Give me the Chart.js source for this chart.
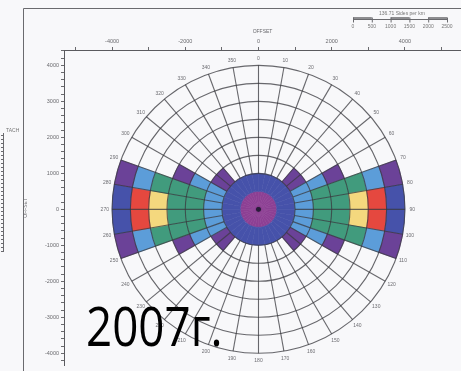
<!DOCTYPE html>
<html>
<head>
<meta charset="utf-8">
<script src="https://cdn.jsdelivr.net/npm/chart.js@4.4.1/dist/chart.umd.min.js"></script>
<style>
  html, body { margin: 0; padding: 0; background: #f8f8fa; }
  canvas { display: block; }
</style>
</head>
<body>
<canvas id="rose" width="461" height="371"></canvas>
<script>
// Azimuth sectors (degrees, clockwise from north), 10 degrees each
const sectorStart = [0, 10, 20, 30, 40, 50, 60, 70, 80, 90, 100, 110, 120, 130, 140, 150, 160, 170,
                     180, 190, 200, 210, 220, 230, 240, 250, 260, 270, 280, 290, 300, 310, 320, 330, 340, 350];
const sectorWidth = 10;
const azimuthLabels = ['0', '10', '20', '30', '40', '50', '60', '70', '80', '90', '100', '110', '120', '130',
                       '140', '150', '160', '170', '180', '190', '200', '210', '220', '230', '240', '250',
                       '260', '270', '280', '290', '300', '310', '320', '330', '340', '350'];

// Offset rings (m): edges of each ring
const ringEdges = [0, 80, 500, 1000, 1500, 2000, 2500, 3000, 3500, 4000];

// Fold class per sector, one array per ring (0 = empty)
const ring0to80     = [8,8,8,8,8,8,8,8,8,8,8,8,8,8,8,8,8,8,8,8,8,8,8,8,8,8,8,8,8,8,8,8,8,8,8,8];
const ring80to500   = [7,7,7,7,7,7,7,7,7,7,7,7,7,7,7,7,7,7,7,7,7,7,7,7,7,7,7,7,7,7,7,7,7,7,7,7];
const ring500to1000 = [2,2,2,2,2,2,2,2,2,2,2,2,2,2,2,2,2,2,2,2,2,2,2,2,2,2,2,2,2,2,2,2,2,2,2,2];
const ring1000to1500 = [0,0,0,0,1,1,3,3,3,3,3,3,1,1,0,0,0,0,0,0,0,0,1,1,3,3,3,3,3,3,1,1,0,0,0,0];
const ring1500to2000 = [0,0,0,0,0,0,3,4,4,4,4,3,0,0,0,0,0,0,0,0,0,0,0,0,3,4,4,4,4,3,0,0,0,0,0,0];
const ring2000to2500 = [0,0,0,0,0,0,1,4,4,4,4,1,0,0,0,0,0,0,0,0,0,0,0,0,1,4,4,4,4,1,0,0,0,0,0,0];
const ring2500to3000 = [0,0,0,0,0,0,0,4,5,5,4,0,0,0,0,0,0,0,0,0,0,0,0,0,0,4,5,5,4,0,0,0,0,0,0,0];
const ring3000to3500 = [0,0,0,0,0,0,0,3,6,6,3,0,0,0,0,0,0,0,0,0,0,0,0,0,0,3,6,6,3,0,0,0,0,0,0,0];
const ring3500to4000 = [0,0,0,0,0,0,0,1,2,2,1,0,0,0,0,0,0,0,0,0,0,0,0,0,0,1,2,2,1,0,0,0,0,0,0,0];

// Axis ticks (m)
const xTickValues = [-5000, -4000, -3000, -2000, -1000, 0, 1000, 2000, 3000, 4000, 5000];
const xTickLabels = ['', '-4000', '', '-2000', '', '0', '', '2000', '', '4000', ''];
const yMajorValues = [-4000, -3000, -2000, -1000, 0, 1000, 2000, 3000, 4000];
const yMajorLabels = ['-4000', '-3000', '-2000', '-1000', '0', '1000', '2000', '3000', '4000'];
const yMinorStep = 200;

// Scale bar and captions
const scaleBarLabels = ['0', '500', '1000', '1500', '2000', '2500'];
const scaleBarTitle = '136.71 Sides per km';
const yearLabel = '2007г.';

const ringCells = [ring0to80, ring80to500, ring500to1000, ring1000to1500, ring1500to2000,
                   ring2000to2500, ring2500to3000, ring3000to3500, ring3500to4000];

const classColors = ['rgba(0,0,0,0)', '#6b4298', '#4652aa', '#5c9dd9', '#419b7d',
                     '#f4d87e', '#e5483f', '#8d4094', '#2a1f3a'];

const GRID_FROM = 1000;
const GRID_TO = 4000;
const LABEL_R = 4200;

function azToRad(az) { return (az - 90) * Math.PI / 180; }

const rosePlugin = {
  id: 'offsetAzimuthRose',
  afterDraw(chart) {
    const ctx = chart.ctx;
    const xs = chart.scales.x, ys = chart.scales.y;
    const cx = xs.getPixelForValue(0), cy = ys.getPixelForValue(0);
    const rx = v => xs.getPixelForValue(v) - cx;
    const ry = v => cy - ys.getPixelForValue(v);

    ctx.save();
    const area = chart.chartArea;
    ctx.beginPath();
    ctx.rect(area.left, area.top, area.right - area.left, area.bottom - area.top);
    ctx.clip();

    // cells
    ringCells.forEach((cells, ri) => {
      const r0 = ringEdges[ri], r1 = ringEdges[ri + 1];
      cells.forEach((cls, si) => {
        if (!cls) return;
        const a0 = azToRad(sectorStart[si]), a1 = azToRad(sectorStart[si] + sectorWidth);
        ctx.beginPath();
        ctx.ellipse(cx, cy, rx(r1), ry(r1), 0, a0, a1, false);
        if (r0 > 0) ctx.ellipse(cx, cy, rx(r0), ry(r0), 0, a1, a0, true);
        else ctx.lineTo(cx, cy);
        ctx.closePath();
        ctx.fillStyle = classColors[cls];
        ctx.fill();
        ctx.strokeStyle = classColors[cls];
        ctx.lineWidth = 0.6;
        ctx.stroke();
      });
    });

    // rings and spokes
    ctx.strokeStyle = 'rgba(55,55,60,0.75)';
    ctx.lineWidth = 1.1;
    for (let i = 0; i < ringEdges.length; i++) {
      const r = ringEdges[i];
      if (r < GRID_FROM) continue;
      ctx.beginPath();
      ctx.ellipse(cx, cy, rx(r), ry(r), 0, 0, Math.PI * 2);
      ctx.stroke();
    }
    sectorStart.forEach(az => {
      const a = azToRad(az);
      ctx.beginPath();
      ctx.moveTo(cx + Math.cos(a) * rx(GRID_FROM), cy + Math.sin(a) * ry(GRID_FROM));
      ctx.lineTo(cx + Math.cos(a) * rx(GRID_TO), cy + Math.sin(a) * ry(GRID_TO));
      ctx.stroke();
    });

    // azimuth labels
    ctx.fillStyle = '#6d6d72';
    ctx.font = '5px "Liberation Sans"';
    ctx.textAlign = 'center';
    ctx.textBaseline = 'middle';
    sectorStart.forEach((az, i) => {
      const a = azToRad(az);
      ctx.fillText(azimuthLabels[i], cx + Math.cos(a) * rx(LABEL_R), cy + Math.sin(a) * ry(LABEL_R));
    });
    ctx.restore();

    // outer frame and neighbouring panel edge
    ctx.save();
    ctx.strokeStyle = '#6a6a6e';
    ctx.lineWidth = 1;
    ctx.beginPath();
    ctx.moveTo(23.5, 371); ctx.lineTo(23.5, 8.5); ctx.lineTo(461, 8.5);
    ctx.stroke();
    ctx.beginPath();
    ctx.moveTo(3.5, 133); ctx.lineTo(3.5, 252);
    for (let y = 135; y < 252; y += 4) { ctx.moveTo(1, y + 0.5); ctx.lineTo(3.5, y + 0.5); }
    ctx.stroke();
    ctx.fillStyle = '#777';
    ctx.font = '5px "Liberation Sans"';
    ctx.textAlign = 'left';
    ctx.textBaseline = 'middle';
    ctx.fillText('TACH', 6, 131);

    // scale bar
    const bx0 = 353, bstep = 18.8, by = 19.5;
    ctx.beginPath();
    ctx.moveTo(bx0, by); ctx.lineTo(bx0 + bstep * 5, by);
    for (let i = 0; i < scaleBarLabels.length; i++) {
      ctx.moveTo(bx0 + bstep * i + 0.5, by - 2); ctx.lineTo(bx0 + bstep * i + 0.5, by + 3);
    }
    ctx.stroke();
    ctx.lineWidth = 1.4;
    ctx.beginPath();
    for (let i = 0; i < 5; i += 2) {
      ctx.moveTo(bx0 + bstep * i, by - 1.5); ctx.lineTo(bx0 + bstep * (i + 1), by - 1.5);
    }
    ctx.stroke();
    ctx.textAlign = 'center';
    scaleBarLabels.forEach((t, i) => ctx.fillText(t, bx0 + bstep * i, by + 7));
    ctx.fillText(scaleBarTitle, bx0 + bstep * 2.6, by - 6);

    // year caption
    ctx.fillStyle = '#000';
    ctx.textAlign = 'left';
    ctx.textBaseline = 'alphabetic';
    ctx.font = '52px "Open Sans"';
    ctx.translate(86, 346);
    ctx.scale(0.88, 1.05);
    ctx.fillText(yearLabel, 0, 0);
    ctx.restore();
  }
};

const tickFont = { family: 'Liberation Sans', size: 5.5 };

new Chart(document.getElementById('rose'), {
  type: 'scatter',
  data: { datasets: [] },
  options: {
    responsive: false,
    animation: false,
    devicePixelRatio: 1,
    layout: { padding: { left: 0, top: 0, right: -2, bottom: 0 } },
    plugins: { legend: { display: false }, tooltip: { enabled: false } },
    scales: {
      x: {
        type: 'linear', position: 'top', bounds: 'data',
        min: -5314, max: 5533,
        afterBuildTicks(s) { s.ticks = xTickValues.map(v => ({ value: v })); },
        afterFit(s) { s.height = 50; },
        ticks: {
          autoSkip: false, maxRotation: 0, padding: 2,
          font: tickFont, color: '#6a6a6e',
          callback: v => xTickLabels[xTickValues.indexOf(v)] || ''
        },
        grid: { drawOnChartArea: false, tickLength: 3, color: '#6a6a6e' },
        border: { color: '#5a5a5e', width: 1 },
        title: { display: true, text: 'OFFSET', color: '#6a6a6e', font: { family: 'Liberation Sans', size: 5 }, padding: { top: 29, bottom: 0 } }
      },
      y: {
        type: 'linear', position: 'left', bounds: 'data',
        min: -4344, max: 4426,
        afterBuildTicks(s) {
          const t = [];
          for (let v = Math.ceil(s.min / yMinorStep) * yMinorStep; v <= s.max; v += yMinorStep) t.push({ value: v });
          s.ticks = t;
        },
        afterFit(s) { s.width = 64; },
        ticks: {
          autoSkip: false, padding: 2,
          font: tickFont, color: '#6a6a6e',
          callback: v => { const k = yMajorValues.indexOf(v); return k >= 0 ? yMajorLabels[k] : ''; }
        },
        grid: { drawOnChartArea: false, tickLength: 3, color: '#6a6a6e' },
        border: { color: '#5a5a5e', width: 1 },
        title: { display: true, text: 'OFFSET', color: '#6a6a6e', font: { family: 'Liberation Sans', size: 5 }, padding: { top: 23, bottom: 0 } }
      }
    }
  },
  plugins: [rosePlugin]
});
</script>
</body>
</html>
